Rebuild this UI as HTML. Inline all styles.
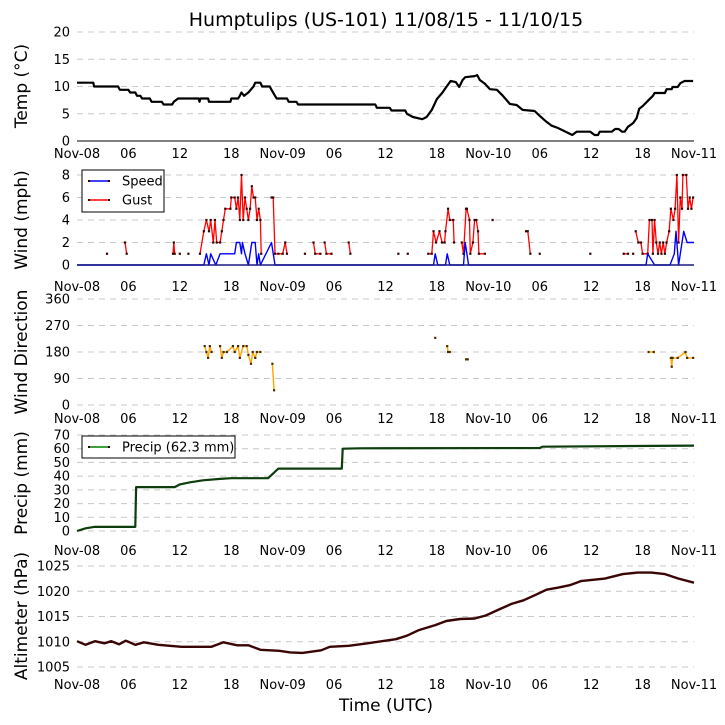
<!DOCTYPE html>
<html><head><meta charset="utf-8"><style>
html,body{margin:0;padding:0;background:#fff}
svg{display:block;font-family:"DejaVu Sans","Liberation Sans",sans-serif}
</style></head><body>
<svg id="c" width="725" height="725" xmlns="http://www.w3.org/2000/svg">
<text x="386" y="26" font-size="19" text-anchor="middle">Humptulips (US-101) 11/08/15 - 11/10/15</text>
<text x="386" y="711" font-size="17" text-anchor="middle">Time (UTC)</text>
</svg>
<script>
// ---- data ----
const xTickLabels = ["Nov-08","06","12","18","Nov-09","06","12","18","Nov-10","06","12","18","Nov-11"];
const tempT = [0,1.9,2,4.8,5,6,6.2,6.8,7.0,7.4,7.6,8.5,8.7,9.9,10.1,11.1,11.3,11.8,14.2,14.3,14.4,15.3,15.4,17.9,18.0,18.8,19.0,19.2,19.5,20,20.6,20.8,21.4,21.6,22.5,22.7,23.1,23.3,24.5,24.7,25.6,25.8,34.8,35,36.5,36.7,38.3,38.5,39.2,40.3,40.8,41.4,42.0,42.6,43.1,43.6,44.2,44.6,45.0,45.3,46.4,46.7,47.0,47.6,48.2,49.0,49.7,50.5,51.3,52.0,53.4,54.0,54.8,55.4,56.1,56.9,57.8,58.3,59.9,60.4,60.8,61.0,62.4,62.8,63.2,63.6,63.9,64.3,64.9,65.3,65.6,66.0,66.5,67.2,67.4,68.6,68.8,69.4,69.5,70.1,70.4,70.9,71.9];
const tempV = [10.7,10.7,10.0,10.0,9.4,9.4,8.9,8.9,8.3,8.3,7.8,7.8,7.2,7.2,6.7,6.7,7.2,7.8,7.8,7.2,7.8,7.8,7.2,7.2,7.8,7.8,8.3,8.9,8.3,8.9,10.0,10.7,10.7,10.0,10.0,9.4,8.3,7.8,7.8,7.2,7.2,6.7,6.7,6.1,6.1,5.6,5.6,5.0,4.4,4.0,4.4,5.7,7.7,8.8,9.9,11.0,10.8,9.9,11.2,11.7,11.9,12.1,11.2,10.5,9.5,9.4,8.3,6.8,6.6,5.7,5.5,4.6,3.5,2.8,2.4,1.8,1.1,1.7,1.7,1.1,1.1,1.7,1.7,2.2,2.2,1.7,1.7,2.6,3.3,4.2,5.9,6.4,7.2,8.3,8.8,8.8,9.5,9.5,9.9,9.9,10.6,11.0,11.0];
const speedT = [0,14.8,15.1,15.4,15.6,16.2,16.7,18.4,18.6,19.0,19.2,19.3,19.6,20,20.4,20.8,21,21.2,21.4,22.7,23.1,41.6,41.8,42.1,43.0,43.2,43.5,45.1,45.3,45.7,66.4,66.6,67.4,69.2,69.7,69.9,70.2,70.8,71.2,72];
const speedV = [0,0,1,0,1,0,1,1,2,2,1,2,1,0,2,2,0,1,0,2,0,0,1,0,0,1,0,0,2,0,0,1,0,0,1,3,0,3,2,2];
const gustT = [3.5,null,5.6,5.8,null,11.2,11.3,11.4,null,12,null,13,null,14.35,14.8,15.1,15.4,15.6,15.9,16.1,16.3,16.7,16.9,17.1,17.3,17.9,18.0,18.4,18.6,18.8,19.0,19.2,19.4,19.6,19.8,20,20.2,20.4,20.6,20.8,21.0,21.2,21.4,21.5,null,22.7,22.9,23.1,23.5,24.0,24.3,24.5,null,26.6,null,27.6,27.8,28.4,null,28.9,29.1,29.7,null,31.7,31.9,null,37.5,null,38.6,null,40.99,41.4,41.6,41.9,42.3,42.6,42.9,43.0,43.3,43.5,43.9,44.0,null,44.9,45.1,45.4,45.5,45.8,45.9,46.2,46.4,46.6,46.8,46.9,47.6,null,48.5,null,52.4,52.6,52.9,null,54.0,null,59.9,null,63.8,64.3,null,64.9,null,65.2,65.5,65.8,66.0,66.6,66.8,67.1,67.2,67.4,67.6,67.8,68.0,68.2,68.4,68.6,68.8,69.1,69.3,69.6,69.8,70.0,70.2,70.4,70.6,70.7,71.1,71.3,71.5,71.7,71.9];
const gustV = [1,null,2,1,null,1,2,1,null,1,null,1,null,1,3,4,3,4,2,4,2,2,3,4,5,5,6,6,5,6,4,8,4,6,5,4,5,7,6,6,4,5,4,1,null,6,6,1,1,1,2,1,null,1,null,2,1,1,null,2,1,1,null,2,1,null,1,null,1,null,1,1,3,2,3,2,2,3,5,4,4,2,null,2,1,5,5,4,1,2,4,4,3,1,1,null,4,null,3,3,1,null,1,null,1,null,1,1,null,1,null,3,2,2,1,1,4,4,1,4,2,1,2,1,2,1,2,3,5,4,5,8,2,6,5,8,8,5,6,5,6];
const dirT = [14.9,15.1,15.3,15.5,15.7,null,16.7,16.9,17.1,17.5,18.2,18.4,18.8,19.0,19.4,19.8,20.0,20.3,20.5,20.8,21.0,21.4,null,22.8,23.0,null,41.8,null,43.2,43.3,43.5,null,45.4,45.6,null,66.7,67.3,null,69.3,69.4,69.5,70.1,71.0,71.2,71.9];
const dirV = [200,180,160,200,180,null,200,160,180,180,200,180,200,160,200,200,170,140,180,160,180,180,null,140,50,null,228,null,200,180,180,null,155,155,null,180,180,null,160,130,160,160,180,160,160];
const precipT = [0,1,2,6.8,6.9,11.4,12,13.2,14.7,16.7,18,22.3,23.5,30.9,31,33,54,54.3,72];
const precipV = [0,2,3,3,32,32,34,35.5,37,38,38.5,38.5,45.5,45.5,60,60.3,60.5,61.5,62.3];
const altT = [0,1,2.1,3.2,4,4.9,5.7,6.8,7.8,9.5,12.2,15.7,17.1,18.7,20,21.4,23.6,24.9,26.3,28.5,29.5,31.7,33.9,36,37.2,38.5,39.9,41.8,43.1,44.7,46.4,47.7,49.4,50.7,52.1,53.4,54.8,56.1,57.5,58.8,61.6,63.7,65.4,67,68.6,70.2,72];
const altV = [1010.1,1009.4,1010.1,1009.7,1010.1,1009.5,1010.2,1009.4,1009.9,1009.4,1009.0,1009.0,1009.9,1009.3,1009.3,1008.4,1008.2,1007.9,1007.8,1008.3,1009.0,1009.2,1009.7,1010.2,1010.5,1011.2,1012.3,1013.3,1014.1,1014.5,1014.6,1015.2,1016.5,1017.5,1018.2,1019.2,1020.3,1020.7,1021.2,1022.0,1022.5,1023.4,1023.7,1023.7,1023.4,1022.5,1021.7];
const tempTicks = [0,5,10,15,20];
const windTicks = [0,2,4,6,8];
const dirTicks = [0,90,180,270,360];
const precipTicks = [0,10,20,30,40,50,60,70];
const altTicks = [1005,1010,1015,1020,1025];

// ---- layout ----
const NS = "http://www.w3.org/2000/svg";
const svg = document.getElementById('c');
const X0 = 77, X1 = 694;
const xs = h => X0 + h * (X1 - X0) / 72;
function mk(tag, attrs, parent){ const e = document.createElementNS(NS, tag); for (const k in attrs) e.setAttribute(k, attrs[k]); (parent||svg).appendChild(e); return e; }
function scale(v0, p0, v1, p1){ return v => p0 + (v - v0) * (p1 - p0) / (v1 - v0); }

function panel(name, ys, ticks, tickY, title, titleY){
  const g = mk('g', {});
  
  
  ticks.forEach(t => {
    const y = ys(t);
    const ln = mk('line', {x1:X0, x2:X1, y1:y, y2:y, stroke:'#c8c8c8', 'stroke-width':1, 'stroke-dasharray':'6,5'}, g);
    
    
    const tx = mk('text', {x:70, y:y+4.5, 'font-size':13, 'text-anchor':'end', fill:'#000'}, g);
    tx.textContent = t;
    
    
  });
  xTickLabels.forEach((l, i) => {
    const tx = mk('text', {x:xs(i*6), y:tickY+5, 'font-size':13, 'text-anchor':'middle'}, g);
    tx.textContent = l;
    
    
  });
  const tt = mk('text', {x:0, y:0, 'font-size':17, 'text-anchor':'middle', transform:`translate(27,${titleY}) rotate(-90)`}, g);
  tt.textContent = title;
  
  
  return g;
}

function series(g, name, T, V, ys, color, w, mcol, ms){
  let d = '', pen = false;
  const pts = [];
  for (let i = 0; i < T.length; i++){
    if (T[i] === null || V[i] === null){ pen = false; continue; }
    const x = xs(T[i]), y = ys(V[i]);
    d += (pen ? 'L' : 'M') + x.toFixed(1) + ',' + y.toFixed(1);
    pen = true; pts.push([x, y]);
  }
  const p = mk('path', {d:d, fill:'none', stroke:color, 'stroke-width':w, 'stroke-linejoin':'round'}, g);
  
  
  if (mcol){
    pts.forEach(([x, y]) => {
      const r = mk('rect', {x:x-ms/2, y:y-ms/2, width:ms, height:ms, fill:mcol}, g);
      
      
    });
  }
}

function legend(g, name, x, y, w, h, items){
  const lg = mk('g', {}, g);
  
  
  mk('rect', {x:x, y:y, width:w, height:h, fill:'#fff', stroke:'#000', 'stroke-width':1}, lg);
  items.forEach((it, i) => {
    const cy = y + 11 + i * 19;
    mk('line', {x1:x+7, x2:x+27, y1:cy, y2:cy, stroke:it[1], 'stroke-width':1.5}, lg);
    mk('rect', {x:x+6, y:cy-1, width:2, height:2, fill:'#300'}, lg);
    mk('rect', {x:x+26, y:cy-1, width:2, height:2, fill:'#300'}, lg);
    const t = mk('text', {x:x+40, y:cy+4.5, 'font-size':13}, lg);
    t.textContent = it[0];
    
    
  });
}

// Temp
const yT = scale(0, 141, 20, 32);
const gT = panel('temp', yT, tempTicks, 153, 'Temp (\u00B0C)', 86);
const ax = mk('line', {x1:X0, x2:X1, y1:yT(0), y2:yT(0), stroke:'#000', 'stroke-width':1}, gT);


series(gT, 'temp', tempT, tempV, yT, '#000', 2.2, null, 0);

// Wind
const yW = scale(0, 265, 8, 175);
const gW = panel('wind', yW, windTicks, 286, 'Wind (mph)', 220);
series(gW, 'gust', gustT, gustV, yW, '#ff0000', 1.3, '#3a0000', 2.2);
series(gW, 'speed', speedT, speedV, yW, '#0000ff', 1.4, null, 0);
const base = mk('line', {x1:X0, x2:X1, y1:yW(0), y2:yW(0), stroke:'#1a1a80', 'stroke-width':1.5}, gW);


legend(gW, 'wind-legend', 82, 170, 82, 42, [['Speed','#0000ff'],['Gust','#ff0000']]);

// Direction
const yD = scale(0, 405, 360, 299);
const gD = panel('direction', yD, dirTicks, 418, 'Wind Direction', 352);
series(gD, 'direction', dirT, dirV, yD, '#ffa500', 1.4, '#4a2a00', 2.2);

// Precip
const yP = scale(0, 531, 70, 435);
const gP = panel('precip', yP, precipTicks, 550, 'Precip (mm)', 483);
series(gP, 'precip', precipT, precipV, yP, '#0d3d0d', 2.2, null, 0);
legend(gP, 'precip-legend', 82, 436, 153, 22, [['Precip (62.3 mm)','#008000']]);

// Altimeter
const yA = scale(1005, 667, 1025, 566);
const gA = panel('altimeter', yA, altTicks, 684, 'Altimeter (hPa)', 616);
series(gA, 'altimeter', altT, altV, yA, '#3a0505', 2.4, null, 0);
</script>
</body></html>
